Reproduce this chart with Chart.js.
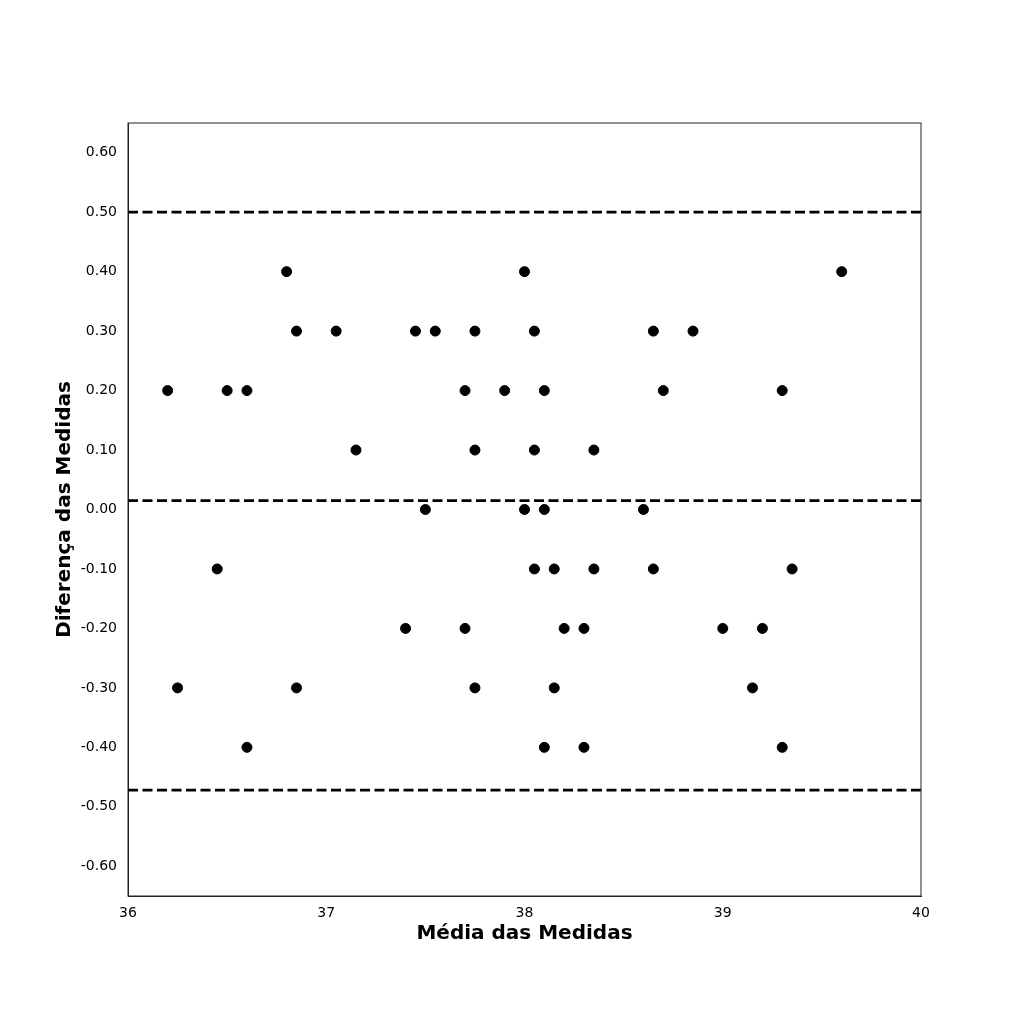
<!DOCTYPE html>
<html>
<head>
<meta charset="utf-8">
<script src="https://cdn.jsdelivr.net/npm/chart.js@4"></script>
<style>
  html, body { margin: 0; padding: 0; background: #fff; }
  #wrap { width: 1024px; height: 1024px; }
</style>
</head>
<body>
<div id="wrap"><canvas id="chart" width="1024" height="1024"></canvas></div>
<script>
// media das medidas (x) e diferenca (y)
const mediaX = [36.2, 36.25, 36.45, 36.5, 36.6, 36.6, 36.8, 36.85, 36.85, 37.05, 37.15, 37.4,
  37.45, 37.5, 37.55, 37.7, 37.7, 37.75, 37.75, 37.75, 37.9, 38.0, 38.0, 38.05, 38.05, 38.05,
  38.1, 38.1, 38.1, 38.15, 38.15, 38.2, 38.3, 38.3, 38.35, 38.35, 38.6, 38.65, 38.65, 38.7,
  38.85, 39.0, 39.15, 39.2, 39.3, 39.3, 39.35, 39.6];
const diferencaY = [0.2, -0.3, -0.1, 0.2, 0.2, -0.4, 0.4, 0.3, -0.3, 0.3, 0.1, -0.2,
  0.3, 0.0, 0.3, 0.2, -0.2, 0.3, 0.1, -0.3, 0.2, 0.4, 0.0, 0.3, 0.1, -0.1,
  0.2, 0.0, -0.4, -0.1, -0.3, -0.2, -0.2, -0.4, 0.1, -0.1, 0.0, 0.3, -0.1, 0.2,
  0.3, -0.2, -0.3, -0.2, 0.2, -0.4, -0.1, 0.4];

// linhas de referencia: limite superior, media, limite inferior
const linhasRef = [0.5, 0.015, -0.472];
const xLimites = [36, 40];
const yTicks = [-0.6, -0.5, -0.4, -0.3, -0.2, -0.1, 0, 0.1, 0.2, 0.3, 0.4, 0.5, 0.6];

let pontos = mediaX.map((x, i) => ({ x: x, y: diferencaY[i] }));

let datasets = [{
  type: 'scatter',
  data: pontos,
  backgroundColor: '#000',
  borderColor: '#000',
  pointRadius: 5,
  pointHoverRadius: 5
}];

linhasRef.forEach(v => {
  datasets.push({
    type: 'line',
    data: xLimites.map(x => ({ x: x, y: v })),
    borderColor: '#000',
    borderWidth: 2.8,
    borderDash: [10, 4.5],
    pointRadius: 0,
    fill: false
  });
});

// moldura completa (topo e direita)
const moldura = {
  id: 'moldura',
  afterDraw(chart) {
    const a = chart.chartArea;
    const c = chart.ctx;
    c.save();
    c.strokeStyle = '#222';
    c.lineWidth = 1;
    c.strokeRect(a.left, a.top, a.right - a.left, a.bottom - a.top);
    c.restore();
  }
};

const fonte = "'DejaVu Sans', sans-serif";

new Chart(document.getElementById('chart').getContext('2d'), {
  data: { datasets: datasets },
  plugins: [moldura],
  options: {
    responsive: false,
    animation: false,
    layout: { padding: { top: 123, right: 103, left: 0, bottom: 0 } },
    plugins: { legend: { display: false }, tooltip: { enabled: false } },
    scales: {
      x: {
        type: 'linear',
        min: 36, max: 40,
        grid: { display: false, drawTicks: true, tickLength: 5, tickColor: '#222' },
        border: { color: '#222', width: 1 },
        ticks: {
          stepSize: 1,
          color: '#000',
          padding: 4,
          font: { family: fonte, size: 14 }
        },
        title: {
          display: true,
          text: 'Média das Medidas',
          color: '#000',
          padding: { top: 0, bottom: 78 },
          font: { family: fonte, size: 20, weight: 'bold' }
        },
        afterFit(scale) { scale.height = 128; }
      },
      y: {
        type: 'linear',
        min: -0.65, max: 0.65,
        afterBuildTicks(scale) { scale.ticks = yTicks.map(v => ({ value: v })); },
        grid: { display: false, drawTicks: true, tickLength: 5, tickColor: '#222' },
        border: { color: '#222', width: 1 },
        ticks: {
          color: '#000',
          padding: 6,
          font: { family: fonte, size: 14 },
          callback: v => v.toFixed(2)
        },
        title: {
          display: true,
          text: 'Diferença das Medidas',
          color: '#000',
          padding: { top: 53, bottom: 0 },
          font: { family: fonte, size: 20, weight: 'bold' }
        },
        afterFit(scale) { scale.width = 128; }
      }
    }
  }
});
</script>
</body>
</html>
